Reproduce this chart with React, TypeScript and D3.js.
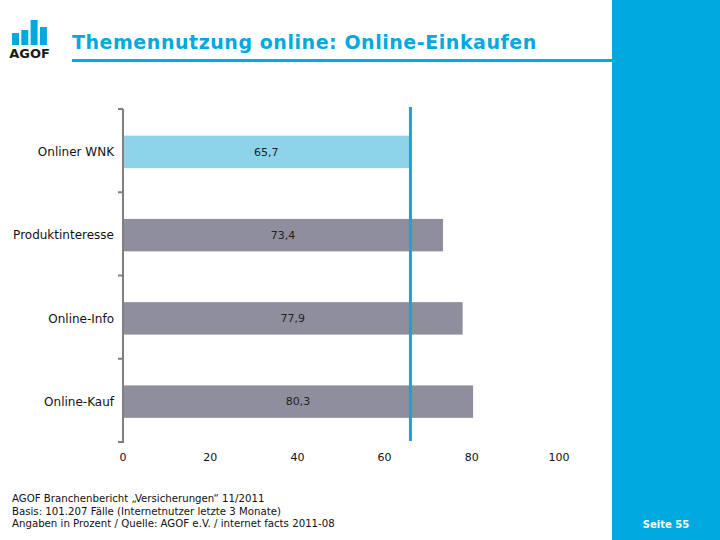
import * as d3 from "d3";

const categories = ["Onliner WNK", "Produktinteresse", "Online-Info", "Online-Kauf"];
const values = [65.7, 73.4, 77.9, 80.3];
const xTicks = [0, 20, 40, 60, 80, 100];
const referenceValue = 65.7;

const footerLines = [
  "AGOF Branchenbericht \u201eVersicherungen\u201c 11/2011",
  "Basis: 101.207 F\u00e4lle (Internetnutzer letzte 3 Monate)",
  "Angaben in Prozent / Quelle: AGOF e.V. / internet facts 2011-08",
];

// logo bar tops (decorative)
const logoBars = [33, 30, 20, 27];

const BLUE = "#00a9e0";
const FONT = "Verdana, 'DejaVu Sans', sans-serif";

const App = () => {
  const width = 720;
  const height = 540;

  const xScale = d3.scaleLinear().domain([0, 100]).range([123, 559]);
  const yScale = d3.scaleBand().domain(categories).range([109, 442]).padding(0);
  const bw = yScale.bandwidth();
  const barOffset = bw * 0.32;
  const barHeight = bw * 0.39;

  return (
    <svg
      width={width}
      height={height}
      style={{ position: "absolute", left: 0, top: 0, background: "#fff" }}
      fontFamily={FONT}
    >
      {/* right panel */}
      <rect x={612} y={0} width={108} height={height} fill={BLUE} />
      <text x={666} y={528} fill="#fff" fontSize={10} fontWeight="bold" textAnchor="middle">
        Seite 55
      </text>

      {/* logo */}
      {logoBars.map((top, i) => (
        <rect key={i} x={12 + i * 9.3} y={top} width={7} height={45 - top} fill={BLUE} />
      ))}
      <text x={29.5} y={58} fontSize={13} fontWeight="bold" fill="#1a1a1a" textAnchor="middle">
        AGOF
      </text>

      {/* title */}
      <text x={72} y={49} fontSize={19} fontWeight="bold" fill={BLUE} letterSpacing={0.55}>
        Themennutzung online: Online-Einkaufen
      </text>
      <rect x={72} y={59} width={540} height={3} fill={BLUE} />

      {/* bars */}
      {categories.map((c, i) => {
        const y0 = yScale(c)!;
        const x1 = xScale(values[i]);
        return (
          <g key={c}>
            <rect
              x={xScale(0)}
              y={y0 + barOffset}
              width={x1 - xScale(0)}
              height={barHeight}
              fill={i === 0 ? "#8dd4ea" : "#8e8e9c"}
            />
            <text
              x={(xScale(0) + x1) / 2}
              y={y0 + barOffset + barHeight / 2}
              dy="0.35em"
              fontSize={11}
              fill="#222"
              textAnchor="middle"
            >
              {values[i].toFixed(1).replace(".", ",")}
            </text>
            <text
              x={114}
              y={y0 + barOffset + barHeight / 2}
              dy="0.35em"
              fontSize={12}
              fill="#111"
              textAnchor="end"
            >
              {c}
            </text>
          </g>
        );
      })}

      {/* y axis */}
      <line x1={123} x2={123} y1={109} y2={443} stroke="#7f7f7f" strokeWidth={2} />
      {[...categories.map((c) => yScale(c)!), 442].map((y, i) => (
        <line key={i} x1={118} x2={123} y1={y} y2={y} stroke="#7f7f7f" strokeWidth={2} />
      ))}

      {/* x tick labels */}
      {xTicks.map((t) => (
        <text key={t} x={xScale(t)} y={461} fontSize={11} fill="#111" textAnchor="middle">
          {t}
        </text>
      ))}

      {/* reference line */}
      <line
        x1={xScale(referenceValue) + 1}
        x2={xScale(referenceValue) + 1}
        y1={107}
        y2={441}
        stroke="#1ba3d8"
        strokeWidth={3}
      />

      {/* footer */}
      {footerLines.map((l, i) => (
        <text key={i} x={12} y={502 + i * 12.5} fontSize={10.2} fill="#111">
          {l}
        </text>
      ))}
    </svg>
  );
};

export default App;
